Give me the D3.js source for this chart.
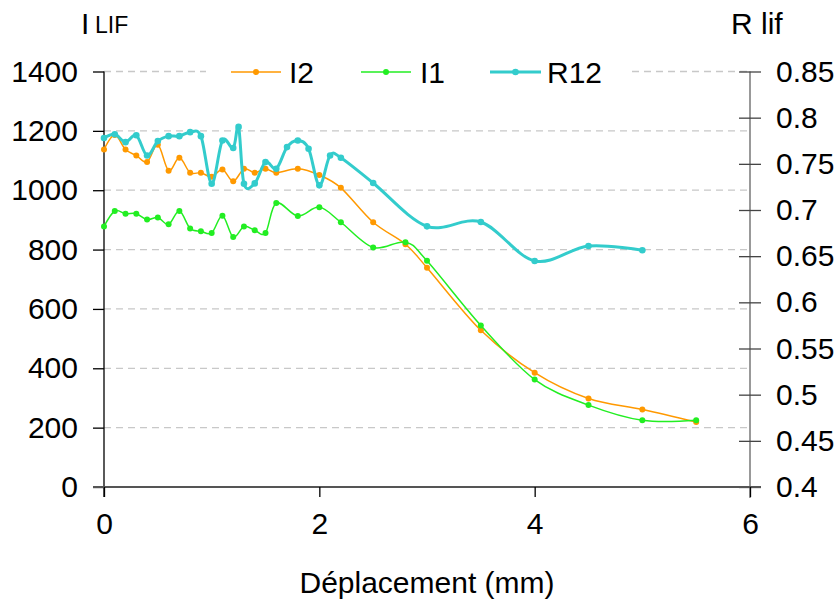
<!DOCTYPE html>
<html>
<head>
<meta charset="utf-8">
<script src="https://cdn.jsdelivr.net/npm/d3@7"></script>
<style>
  html, body { margin: 0; padding: 0; background: #fff; }
  text { font-family: "Liberation Sans", Arial, sans-serif; fill: #000; }
</style>
</head>
<body>
<svg id="chart" width="840" height="601"></svg>
<script>
// ---------- data ----------
const xI = [0,0.1,0.2,0.3,0.4,0.5,0.6,0.7,0.8,0.9,1.0,1.1,1.2,1.3,1.4,1.5,1.6,1.8,2.0,2.2,2.5,2.8,3.0,3.5,4.0,4.5,5.0,5.5];
const i2Values = [1137,1186,1137,1117,1095,1153,1066,1109,1059,1059,1045,1070,1030,1072,1059,1072,1059,1072,1051,1008,892,818,739,528,385,298,261,219];
const i1Values = [878,930,921,921,901,908,885,930,871,862,856,914,842,878,865,856,957,913,943,892,807,825,762,544,362,276,225,225];
const xR = [0,0.1,0.2,0.3,0.4,0.5,0.6,0.7,0.8,0.9,1.0,1.1,1.2,1.25,1.3,1.4,1.5,1.6,1.7,1.8,1.9,2.0,2.1,2.2,2.5,3.0,3.5,4.0,4.5,5.0];
const r12Values = [0.778,0.782,0.7735,0.781,0.759,0.7746,0.780,0.780,0.7843,0.780,0.7285,0.7753,0.7672,0.790,0.7285,0.7288,0.7519,0.7447,0.7681,0.7753,0.7664,0.7267,0.7591,0.7566,0.7292,0.6823,0.6870,0.6448,0.6610,0.6564];
const xTicks = [0,2,4,6];
const leftTicks = [0,200,400,600,800,1000,1200,1400];
const rightTicks = [0.4,0.45,0.5,0.55,0.6,0.65,0.7,0.75,0.8,0.85];
const rightTickLabels = ["0.4","0.45","0.5","0.55","0.6","0.65","0.7","0.75","0.8","0.85"];
const seriesNames = ["I2","I1","R12"];

// ---------- layout ----------
const svg = d3.select("#chart");
const L = 104, R = 750, T = 71.5, B = 487;
const x = d3.scaleLinear().domain([0,6]).range([L,R]);
const yL = d3.scaleLinear().domain([0,1400]).range([B,T]);
const yR = d3.scaleLinear().domain([0.4,0.85]).range([B,T]);
const FS = 30;

// gridlines
svg.append("g").selectAll("line").data(leftTicks.filter(d => d > 0)).join("line")
  .attr("x1", L).attr("x2", R).attr("y1", d => yL(d)).attr("y2", d => yL(d))
  .attr("stroke", "#c8c8c8").attr("stroke-width", 1.3).attr("stroke-dasharray", "7,5");

// left axis
const gL = svg.append("g").attr("transform", `translate(${L},0)`)
  .call(d3.axisLeft(yL).tickValues(leftTicks).tickSize(11).tickPadding(15).tickFormat(d3.format("d")));
gL.select(".domain").attr("stroke", "#000").attr("stroke-width", 1.3).attr("d", `M0,${T}V${B+10}`);
gL.selectAll(".tick line").attr("stroke", "#000").attr("stroke-width", 1.3);
gL.selectAll(".tick text").attr("font-size", FS).attr("fill", "#000").attr("font-family", "Liberation Sans, Arial, sans-serif");

// right axis
const gR = svg.append("g").attr("transform", `translate(${R},0)`)
  .call(d3.axisRight(yR).tickValues(rightTicks).tickSize(11).tickPadding(15).tickFormat((d,i) => rightTickLabels[i]));
gR.select(".domain").attr("stroke", "#777").attr("stroke-width", 1.5).attr("d", `M0,${T}V${B+11}`);
gR.selectAll(".tick line").attr("stroke", "#444").attr("stroke-width", 1.3).attr("x1", -11);
gR.selectAll(".tick text").attr("font-size", FS).attr("fill", "#000").attr("font-family", "Liberation Sans, Arial, sans-serif");

// bottom axis
const gB = svg.append("g").attr("transform", `translate(0,${B})`)
  .call(d3.axisBottom(x).tickValues(xTicks).tickSize(10).tickPadding(16).tickFormat(d3.format("d")));
gB.select(".domain").attr("stroke", "#555").attr("stroke-width", 1.8).attr("d", `M${L-11},0H${R+11}`);
gB.selectAll(".tick line").attr("stroke", "#000").attr("stroke-width", 1.3);
gB.selectAll(".tick text").attr("font-size", FS).attr("fill", "#000").attr("font-family", "Liberation Sans, Arial, sans-serif");

// axis titles
svg.append("text").attr("x", 81).attr("y", 34).attr("font-size", FS).text("I");
svg.append("text").attr("x", 95).attr("y", 33).attr("font-size", 23).text("LIF");
svg.append("text").attr("x", 731).attr("y", 34).attr("font-size", FS).text("R lif");
svg.append("text").attr("x", (L+R)/2).attr("y", 593).attr("text-anchor", "middle").attr("font-size", FS).text("Déplacement (mm)");

// series
const curve = d3.curveCatmullRom.alpha(0);
const series = [
  { name: seriesNames[0], xs: xI, ys: i2Values, y: yL, color: "#ff9900", w: 1.5, r: 3 },
  { name: seriesNames[1], xs: xI, ys: i1Values, y: yL, color: "#22ee22", w: 1.5, r: 3 },
  { name: seriesNames[2], xs: xR, ys: r12Values, y: yR, color: "#33cccc", w: 3, r: 3.3 }
];
series.forEach(s => {
  const pts = s.xs.map((d,i) => [d, s.ys[i]]);
  const line = d3.line().x(d => x(d[0])).y(d => s.y(d[1])).curve(curve);
  svg.append("path").datum(pts).attr("d", line).attr("fill", "none")
    .attr("stroke", s.color).attr("stroke-width", s.w).attr("stroke-linejoin", "round");
  svg.append("g").selectAll("circle").data(pts).join("circle")
    .attr("cx", d => x(d[0])).attr("cy", d => s.y(d[1])).attr("r", s.r).attr("fill", s.color);
});

// legend
const lg = svg.append("g");
lg.append("rect").attr("x", 206).attr("y", 58).attr("width", 421).attr("height", 28).attr("fill", "#fff");
const legendPos = [{x0:231, x1:281, tx:289}, {x0:361, x1:411, tx:420}, {x0:490, x1:541, tx:547}];
series.forEach((s,i) => {
  const p = legendPos[i];
  lg.append("line").attr("x1", p.x0).attr("x2", p.x1).attr("y1", 72).attr("y2", 72)
    .attr("stroke", s.color).attr("stroke-width", s.w);
  lg.append("circle").attr("cx", (p.x0+p.x1)/2).attr("cy", 72).attr("r", s.r).attr("fill", s.color);
  lg.append("text").attr("x", p.tx).attr("y", 72).attr("dy", "0.36em").attr("font-size", FS).text(s.name);
});
</script>
</body>
</html>
